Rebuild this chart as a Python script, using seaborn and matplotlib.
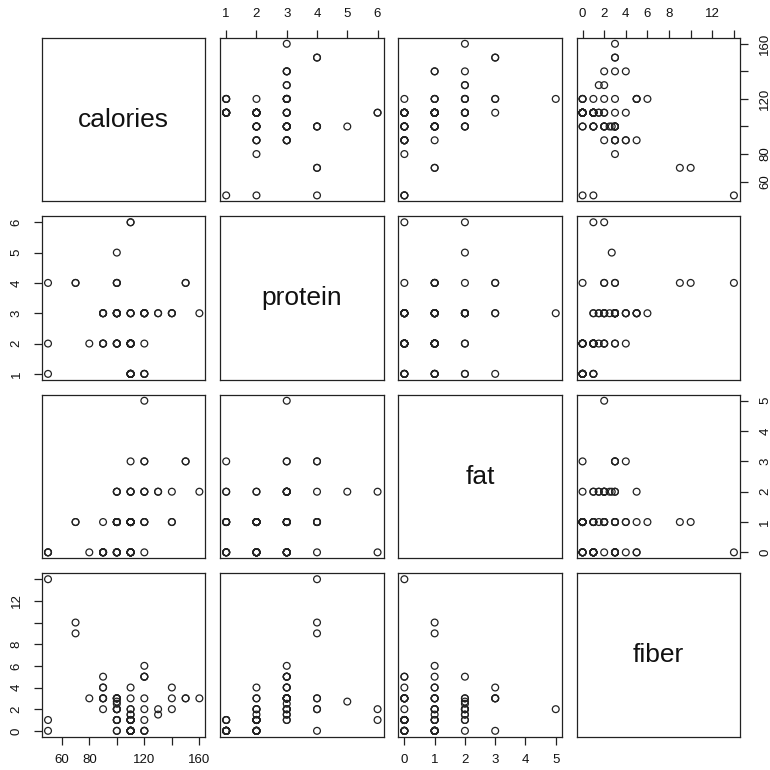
import pandas as pd
import matplotlib.pyplot as plt
import seaborn as sns

# --- data: 77 breakfast cereals ---
calories = [70, 120, 70, 50, 110, 110, 110, 130, 90, 90, 120, 110, 120, 110, 110, 110,
            100, 110, 110, 110, 100, 110, 100, 100, 110, 110, 100, 120, 120, 110, 100,
            110, 100, 110, 120, 120, 110, 110, 110, 140, 110, 100, 110, 100, 150, 150,
            160, 100, 120, 140, 90, 130, 120, 100, 50, 50, 100, 100, 120, 100, 90, 110,
            110, 80, 90, 90, 110, 110, 90, 110, 140, 100, 110, 110, 100, 100, 110]
protein = [4, 3, 4, 4, 2, 2, 2, 3, 2, 3, 1, 6, 1, 3, 1, 2, 2, 1, 1, 3, 3, 2, 2, 2, 2, 1,
           3, 3, 3, 1, 2, 1, 3, 3, 3, 1, 3, 1, 2, 3, 2, 4, 2, 4, 4, 4, 3, 2, 2, 3, 3, 3,
           3, 3, 1, 2, 4, 5, 3, 3, 2, 1, 2, 2, 3, 3, 2, 6, 2, 2, 3, 3, 2, 1, 3, 3, 2]
fat = [1, 5, 1, 0, 2, 2, 0, 2, 1, 0, 2, 2, 3, 2, 1, 0, 0, 0, 1, 3, 0, 0, 1, 0, 1, 0,
       0, 2, 0, 1, 0, 1, 1, 0, 3, 2, 1, 0, 1, 1, 1, 2, 1, 1, 3, 3, 2, 1, 1, 2, 0, 2,
       1, 0, 0, 0, 1, 2, 1, 2, 0, 0, 0, 0, 0, 0, 1, 0, 0, 1, 1, 1, 1, 1, 1, 1, 1]
fiber = [10, 2, 9, 14, 1, 1.5, 1, 2, 4, 5, 0, 2, 0, 2, 0, 0, 1, 1, 0, 4, 1, 1, 2, 1, 1,
         1, 3, 5, 5, 0, 0, 0, 3, 3, 3, 1, 1.5, 0, 1, 2, 0, 2, 0, 0, 3, 3, 3, 2, 0, 3,
         3, 1.5, 6, 1, 0, 1, 2, 2.7, 5, 2.5, 2, 0, 0, 3, 4, 3, 1, 1, 3, 0, 4, 3, 0, 0,
         3, 3, 1]

variables = ["calories", "protein", "fat", "fiber"]
ticks = {
    "calories": [60, 80, 100, 120, 140, 160],
    "protein": [1, 2, 3, 4, 5, 6],
    "fat": [0, 1, 2, 3, 4, 5],
    "fiber": [0, 2, 4, 6, 8, 10, 12, 14],
}
tick_labels = {
    "calories": ["60", "80", "", "120", "", "160"],
    "protein": ["1", "2", "3", "4", "5", "6"],
    "fat": ["0", "1", "2", "3", "4", "5"],
    "fiber": ["0", "2", "4", "6", "8", "", "12", ""],
}

df = pd.DataFrame({"calories": calories, "protein": protein, "fat": fat, "fiber": fiber})

# --- style ---
sns.set_style("white")
plt.rcParams["font.family"] = ["Liberation Sans", "DejaVu Sans"]
plt.rcParams.update({"axes.edgecolor": "#222222", "axes.linewidth": 0.9,
                     "text.color": "#111111"})

g = sns.PairGrid(df, vars=variables, height=7.7 / 4, despine=False)
g.map_offdiag(sns.scatterplot, s=24, fc="none", ec="#222222", linewidth=0.9)

n = len(variables)
for i in range(n):
    for j in range(n):
        ax = g.axes[i, j]
        ax.set_xlabel("")
        ax.set_ylabel("")
        ax.tick_params(bottom=False, top=False, left=False, right=False,
                       labelbottom=False, labeltop=False,
                       labelleft=False, labelright=False)
        for sp in ax.spines.values():
            sp.set_visible(True)
            sp.set_color("#222222")
        if i == j:
            ax.text(0.5, 0.5, variables[i], transform=ax.transAxes,
                    ha="center", va="center", fontsize=19, color="#111111")

tick_kw = dict(length=6, width=0.9, color="#222222", labelsize=9.5,
               labelcolor="#111111")

# alternating outer axes, as in R's pairs()
for j, v in enumerate(variables):
    if j % 2 == 0:
        ax = g.axes[n - 1, j]
        ax.set_xticks(ticks[v], tick_labels[v])
        ax.tick_params(axis="x", bottom=True, labelbottom=True, pad=6.5, **tick_kw)
    else:
        ax = g.axes[0, j]
        ax.set_xticks(ticks[v], tick_labels[v])
        ax.tick_params(axis="x", top=True, labeltop=True, pad=6.5, **tick_kw)

for i, v in enumerate(variables):
    if i % 2 == 1:
        ax = g.axes[i, 0]
        ax.set_yticks(ticks[v], tick_labels[v])
        ax.tick_params(axis="y", left=True, labelleft=True, pad=8, **tick_kw)
    else:
        ax = g.axes[i, n - 1]
        ax.set_yticks(ticks[v], tick_labels[v])
        ax.tick_params(axis="y", right=True, labelright=True, pad=8, **tick_kw)
    for lab in ax.get_yticklabels():
        lab.set_rotation(90)
        lab.set_va("center")

# shared limits with 4% padding, like R
for k, v in enumerate(variables):
    lo, hi = df[v].min(), df[v].max()
    pad = 0.04 * (hi - lo)
    g.axes[0, k].set_xlim(lo - pad, hi + pad)
    g.axes[k, 0].set_ylim(lo - pad, hi + pad)

g.figure.set_size_inches(7.7, 7.7)
g.figure.subplots_adjust(left=0.0545, right=0.961, bottom=0.043, top=0.951,
                         wspace=0.09, hspace=0.09)
g.figure.savefig("out.png", dpi=100)
